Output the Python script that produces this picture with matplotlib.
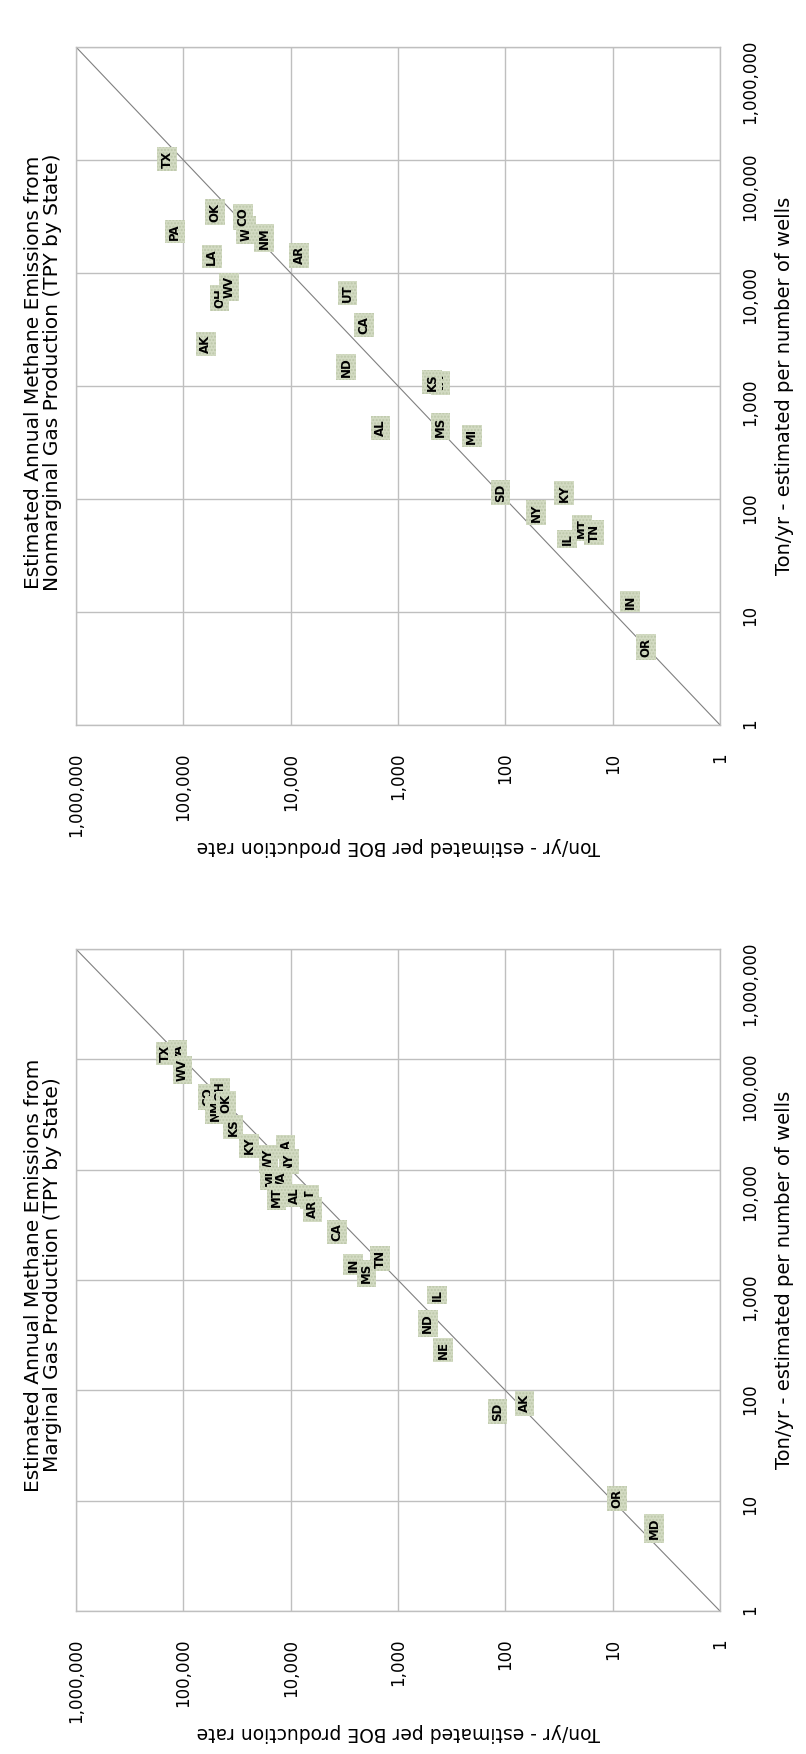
import matplotlib.pyplot as plt

### Nonmarginal gas production, one label per state
nonmarg_states = ['TX', 'PA', 'OK', 'WY', 'CO', 'NM', 'LA', 'AR', 'OH', 'WV',
                  'UT', 'CA', 'AK', 'ND', 'VA', 'KS', 'AL', 'MS', 'MI', 'SD',
                  'KY', 'NY', 'IL', 'MT', 'TN', 'IN', 'OR']
nonmarg_boe = [141900, 120200, 50400, 26100, 27800, 17700, 54400, 8360, 46000, 37700,
               2950, 2070, 61900, 3050, 401, 482, 1456, 401, 205, 111,
               28.4, 51.6, 26.6, 19.3, 14.9, 6.9, 4.9]
nonmarg_wells = [102100, 23200, 34500, 24000, 31300, 20400, 13900, 14400, 6010, 7520,
                 6660, 3470, 2350, 1470, 1064, 1086, 425, 436, 361, 114,
                 112, 75.7, 44.0, 55.1, 50.3, 12.3, 4.9]

### Marginal gas production
marg_states = ['PA', 'TX', 'WV', 'CO', 'NM', 'OH', 'OK', 'KS', 'KY', 'WY',
               'LA', 'NY', 'MI', 'VA', 'MT', 'AL', 'UT', 'AR', 'CA', 'IN',
               'MS', 'TN', 'IL', 'ND', 'NE', 'SD', 'AK', 'OR', 'MD']
marg_boe = [113600, 146300, 101800, 58700, 50800, 45600, 39900, 34500, 24500, 16100,
            11200, 10400, 15600, 12100, 13500, 9310, 6680, 6240, 3680, 2610,
            1960, 1470, 433, 528, 379, 118, 66.4, 9.1, 4.1]
marg_wells = [117200, 113300, 80000, 45800, 34700, 51600, 39900, 24500, 16500, 12400,
              16100, 11800, 8350, 8060, 5690, 5800, 5690, 4400, 2720, 1370,
              1150, 1570, 731, 405, 232, 64.0, 76.3, 10.5, 5.6]

tick_values = [1, 10, 100, 1000, 10000, 100000, 1000000]
tick_labels = ['1', '10', '100', '1,000', '10,000', '100,000', '1,000,000']

grey = '#bfbfbf'
plt.rcParams['font.family'] = 'DejaVu Sans'

fig = plt.figure(figsize=(8.06, 17.54), dpi=100)


def draw_panel(rect, states, boe, wells, title, title_y):
    ax = fig.add_axes(rect)
    ax.set_xscale('log')
    ax.set_yscale('log')
    # BOE runs right to left, wells bottom to top
    ax.set_xlim(tick_values[-1], tick_values[0])
    ax.set_ylim(tick_values[0], tick_values[-1])
    ax.minorticks_off()

    ax.set_xticks(tick_values)
    ax.set_xticklabels(tick_labels)
    ax.set_yticks(tick_values)
    ax.set_yticklabels(tick_labels)
    ax.yaxis.tick_right()
    ax.tick_params(axis='x', length=0, pad=20, labelsize=12, labelrotation=90)
    ax.tick_params(axis='y', length=0, pad=15, labelsize=12, labelrotation=90)

    ax.grid(True, color=grey, linewidth=1)
    ax.set_axisbelow(True)
    for s in ax.spines.values():
        s.set_color(grey)
        s.set_linewidth(1)

    # one-to-one line
    ax.plot([tick_values[0], tick_values[-1]], [tick_values[0], tick_values[-1]],
            color='#808080', linewidth=0.8, zorder=2)

    for i in range(len(states)):
        ax.text(boe[i], wells[i], states[i], rotation=90, ha='center', va='center',
                fontsize=8.5, fontweight='bold', color='black', zorder=3 + i,
                bbox=dict(boxstyle='square,pad=0.28', fc='#d3dbc3', ec='#bcc7a9',
                          lw=0, hatch='.....'))

    ax.set_xlabel('Ton/yr - estimated per BOE production rate', fontsize=13.5,
                  rotation=180, labelpad=0)
    ax.yaxis.set_label_position('right')
    ax.set_ylabel('Ton/yr - estimated per number of wells', fontsize=14,
                  rotation=90, labelpad=12)

    fig.text(0.053, title_y, title, rotation=90, ha='center', va='center',
             multialignment='center', fontsize=14.5, linespacing=1.0)
    return ax


draw_panel([0.0943, 0.5867, 0.799, 0.3865], nonmarg_states, nonmarg_boe, nonmarg_wells,
           'Estimated Annual Methane Emissions from\nNonmarginal Gas Production (TPY by State)',
           0.7879)
draw_panel([0.0943, 0.0815, 0.799, 0.3774], marg_states, marg_boe, marg_wells,
           'Estimated Annual Methane Emissions from\nMarginal Gas Production (TPY by State)',
           0.2731)

plt.savefig('out.png', dpi=100)
plt.close()
